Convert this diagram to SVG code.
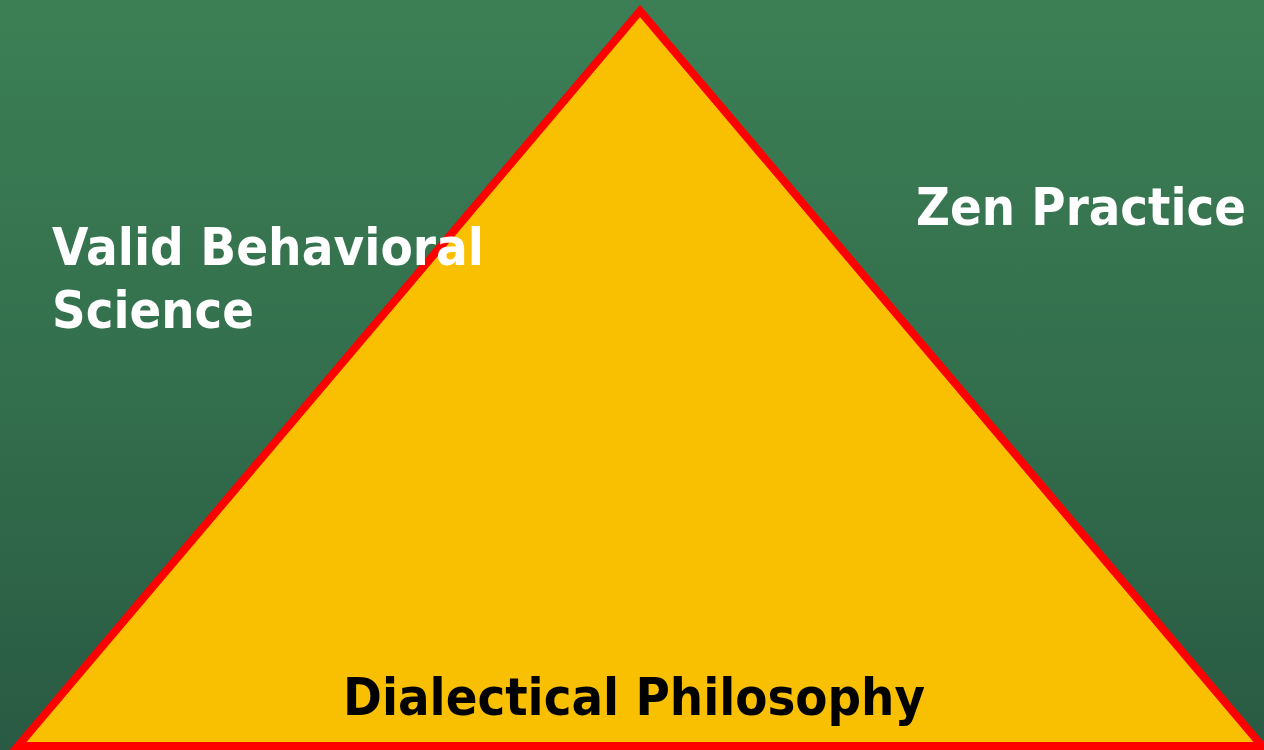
<svg xmlns="http://www.w3.org/2000/svg" width="1264" height="750" viewBox="0 0 1264 750">
  <defs>
    <linearGradient id="bg" x1="0" y1="0" x2="0" y2="1">
      <stop offset="0" stop-color="#3c7f55"/>
      <stop offset="0.5" stop-color="#336f4d"/>
      <stop offset="1" stop-color="#295a43"/>
    </linearGradient>
    <style>
      .lbl { font-family: "DejaVu Sans", Verdana, sans-serif; font-weight: bold; font-size: 52px; }
      .w { fill: #ffffff; }
      .k { fill: #000000; }
    </style>
  </defs>
  <rect x="0" y="0" width="1264" height="750" fill="url(#bg)"/>
  <g id="triangle">
    <polygon points="640,11 18,746 1262,746" fill="#f8c000" stroke="#ff0000" stroke-width="8" stroke-linejoin="miter" stroke-miterlimit="10"/>
  </g>
  <g id="valid-behavioral-science">
    <text class="lbl w" x="52" y="265" textLength="432" lengthAdjust="spacingAndGlyphs">Valid Behavioral</text>
    <text class="lbl w" x="52" y="328" textLength="202" lengthAdjust="spacingAndGlyphs">Science</text>
  </g>
  <g id="zen-practice">
    <text class="lbl w" x="916" y="225" textLength="330" lengthAdjust="spacingAndGlyphs">Zen Practice</text>
  </g>
  <g id="dialectical-philosophy">
    <text class="lbl k" x="343" y="715" textLength="582" lengthAdjust="spacingAndGlyphs">Dialectical Philosophy</text>
  </g>
  <g id="connectors"/>
</svg>
